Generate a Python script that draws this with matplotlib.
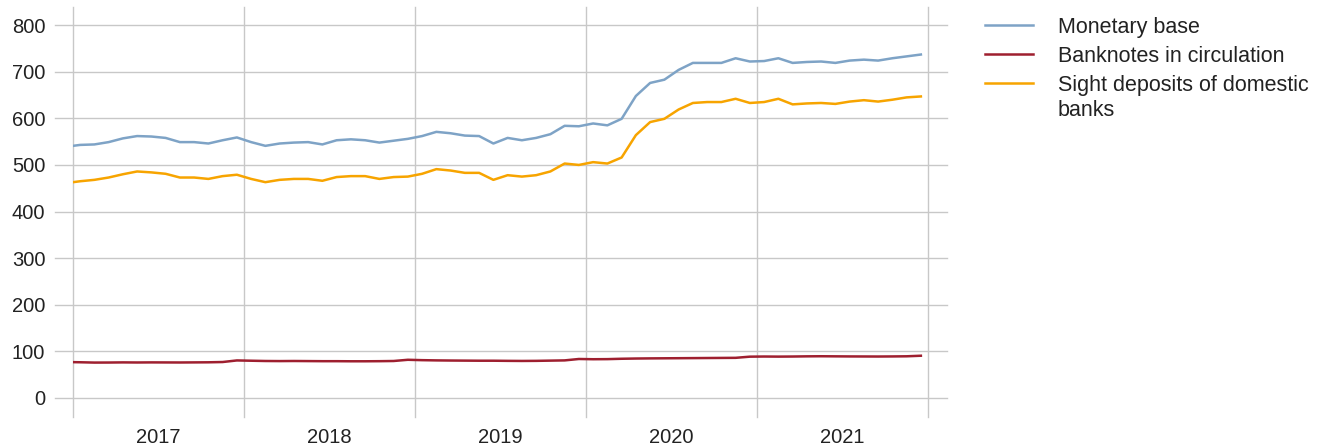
import matplotlib
matplotlib.use("Agg")
import matplotlib.pyplot as plt
from matplotlib.lines import Line2D
import numpy as np

plt.rcParams["font.family"] = ["Liberation Sans", "DejaVu Sans"]

# Monthly data, Dec 2016 .. Dec 2021 (CHF bn)
years = [2017, 2018, 2019, 2020, 2021]
monetary_base = [
    539,
    543, 544, 549, 557, 562, 561, 558, 549, 549, 546, 553, 559,
    549, 541, 546, 548, 549, 544, 553, 555, 553, 548, 552, 556,
    562, 571, 568, 563, 562, 546, 558, 553, 558, 566, 584, 583,
    589, 585, 599, 648, 676, 683, 704, 719, 719, 719, 729, 722,
    723, 729, 719, 721, 722, 719, 724, 726, 724, 729, 733, 737,
]
banknotes = [
    77.0,
    76.5, 75.8, 75.9, 76.2, 76.0, 76.2, 76.1, 76.0, 76.2, 76.4, 77.0, 80.4,
    79.8, 79.2, 79.0, 79.2, 79.0, 78.8, 78.8, 78.6, 78.6, 78.8, 79.2, 81.8,
    81.0, 80.5, 80.2, 80.0, 79.8, 79.8, 79.5, 79.3, 79.5, 80.0, 80.5, 83.5,
    83.0, 83.2, 84.0, 84.5, 84.8, 85.0, 85.2, 85.4, 85.6, 85.8, 86.0, 88.5,
    88.8, 88.6, 88.8, 89.2, 89.4, 89.2, 89.0, 88.9, 88.8, 89.0, 89.3, 90.5,
]
sight_deposits = [
    461,
    465, 468, 473, 480, 486, 484, 481, 473, 473, 470, 476, 479,
    470, 463, 468, 470, 470, 466, 474, 476, 476, 470, 474, 475,
    481, 491, 488, 483, 483, 468, 478, 475, 478, 486, 503, 500,
    506, 503, 516, 564, 592, 599, 619, 633, 635, 635, 642, 633,
    635, 642, 630, 632, 633, 631, 636, 639, 636, 640, 645, 647,
]
labels = [["Monetary base"], ["Banknotes in circulation"],
          ["Sight deposits of domestic", "banks"]]
colors = ["#7ea3c6", "#9e1f2f", "#f7a400"]
yticks = [0, 100, 200, 300, 400, 500, 600, 700, 800]

# mid-month positions
x = 2016 + (np.arange(len(monetary_base)) + 11.5) / 12

W, H = 1329, 448
fig = plt.figure(figsize=(W / 100, H / 100), dpi=100)
ax_l, ax_r, ax_t, ax_b = 73, 928, 7, 417
ax = fig.add_axes([ax_l / W, 1 - ax_b / H, (ax_r - ax_l) / W, (ax_b - ax_t) / H])
ax.set_xlim(years[0], years[-1] + 1)
ax.set_ylim(-41, 839)
for s in ax.spines.values():
    s.set_visible(False)

grid_c = "#c8c8c8"
span = ax_r - ax_l
for v in yticks:
    ax.axhline(v, xmin=(55 - ax_l) / span, xmax=(947 - ax_l) / span,
               color=grid_c, lw=1.0, clip_on=False, zorder=0)
for yr in years + [years[-1] + 1]:
    ax.axvline(yr, color=grid_c, lw=1.0, clip_on=False, zorder=0)

for series, c in zip([monetary_base, banknotes, sight_deposits], colors):
    ax.plot(x, series, color=c, lw=1.8, solid_joinstyle="round", zorder=3)

ax.set_yticks(yticks)
ax.tick_params(axis="y", length=0, pad=20, labelsize=14.5, labelcolor="#222222")
ax.set_xticks([])
ax.set_xticks([yr + 0.5 for yr in years], minor=True)
ax.set_xticklabels([str(yr) for yr in years], minor=True)
ax.tick_params(axis="x", which="minor", length=0, pad=8, labelsize=14.5,
               labelcolor="#222222")

# legend drawn by hand
leg_y = [25, 54, 83]
for lines, c, yy in zip(labels, colors, leg_y):
    fig.add_artist(Line2D([985 / W, 1033 / W], [1 - yy / H, 1 - yy / H],
                          color=c, lw=1.8, transform=fig.transFigure))
    for j, txt in enumerate(lines):
        fig.text(1058 / W, 1 - (yy + 8 + 25 * j) / H, txt, fontsize=15.5,
                 color="#222222", va="baseline", ha="left")

fig.savefig("out.png", dpi=100)
